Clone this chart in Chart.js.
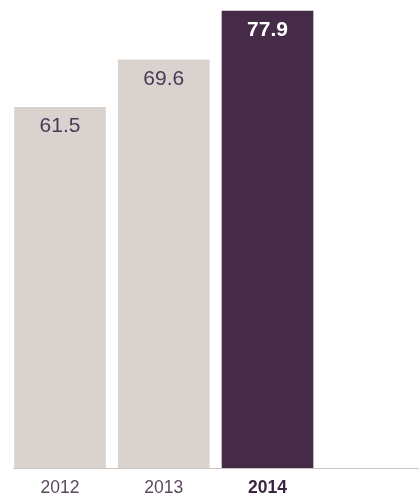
<!DOCTYPE html>
<html>
<head>
<meta charset="utf-8">
<script src="https://cdn.jsdelivr.net/npm/chart.js@4/dist/chart.umd.min.js"></script>
<style>
  html, body { margin: 0; padding: 0; background: #fff; overflow: hidden; }
  #wrap { width: 419px; height: 499px; position: relative; }
</style>
</head>
<body>
<div id="wrap"><canvas id="chart"></canvas></div>
<script>
const years = ["2012", "2013", "2014"]
const values = [61.5, 69.6, 77.9]

const barColors = ["#d9d3cf", "#d9d3cf", "#452b47"]
const lastIndex = years.length - 1

const valueLabels = {
  id: "valueLabels",
  afterDatasetsDraw(chart) {
    const ctx = chart.ctx
    const meta = chart.getDatasetMeta(0)
    ctx.save()
    ctx.textAlign = "center"
    ctx.textBaseline = "middle"
    meta.data.forEach((bar, i) => {
      const highlight = i === lastIndex
      ctx.font = (highlight ? "bold " : "") + "21px 'Liberation Sans', Arial, sans-serif"
      ctx.fillStyle = highlight ? "#ffffff" : "#4b3a55"
      ctx.fillText(values[i].toFixed(1), bar.x, bar.y + 19)
    })
    ctx.restore()
  }
}

new Chart(document.getElementById("chart"), {
  type: "bar",
  data: {
    datasets: [{
      data: years.map((y, i) => ({ x: i, y: values[i] })),
      backgroundColor: barColors,
      borderWidth: 0,
      barThickness: 91
    }]
  },
  options: {
    responsive: true,
    maintainAspectRatio: false,
    animation: false,
    events: [],
    layout: {
      padding: { left: 13, right: 0, top: 0, bottom: -10 }
    },
    plugins: {
      legend: { display: false },
      tooltip: { enabled: false }
    },
    scales: {
      x: {
        type: "linear",
        offset: false,
        min: -0.453,
        max: 3.46,
        afterBuildTicks(scale) {
          scale.ticks = years.map((y, i) => ({ value: i }))
        },
        grid: { display: false, offset: false, drawTicks: false },
        border: { display: true, color: "#cbc7c6", width: 1 },
        ticks: {
          padding: 10,
          maxRotation: 0,
          autoSkip: false,
          callback: (v) => years[v] ?? "",
          color: (c) => c.index === lastIndex ? "#3a2540" : "#5b4a5e",
          font: (c) => ({
            family: "'Liberation Sans', Arial, sans-serif",
            size: 17.5,
            weight: c.index === lastIndex ? "bold" : "normal"
          })
        }
      },
      y: {
        display: false,
        min: 0,
        max: 79.8
      }
    }
  },
  plugins: [valueLabels]
})
</script>
</body>
</html>
